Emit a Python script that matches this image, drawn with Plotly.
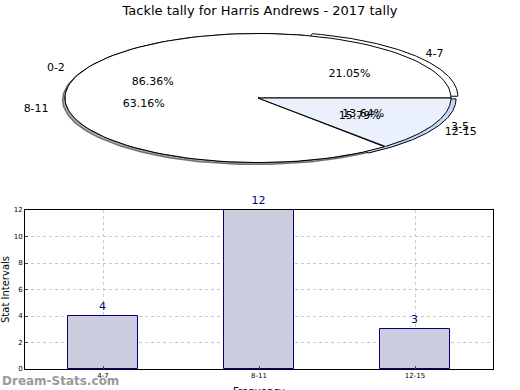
import numpy as np
import plotly.graph_objects as go

# ---- data ----
title = "Tackle tally for Harris Andrews - 2017 tally"
pie1_labels = ["0-2", "3-5"]
pie1_values = [19, 3]
pie2_labels = ["4-7", "8-11", "12-15"]
pie2_values = [4, 12, 3]
bar_categories = ["4-7", "8-11", "12-15"]
bar_values = [4, 12, 3]
x_title = "Frequency"
y_title = "Stat Intervals"

W, H = 520, 390
# pie geometry (pixels)
CXP, CYP, RXP, RYP = 258, 98, 193, 64.5
PIE_TOP_PX, PIE_BOT_PX = 12, 182

fig = go.Figure()


def wedge(a0, a1, off=(0.0, 0.0), n=120):
    t = np.linspace(np.radians(a0), np.radians(a1), n)
    xs = np.concatenate([[0], np.cos(t), [0]]) + off[0]
    ys = np.concatenate([[0], np.sin(t), [0]]) + off[1]
    return xs, ys


def pie_angles(values):
    tot = float(sum(values))
    fr = [v / tot for v in values]
    starts = np.concatenate([[0], np.cumsum(fr)[:-1]]) * 360
    ends = np.cumsum(fr) * 360
    return fr, starts, ends


# shadow
t = np.linspace(0, 2 * np.pi, 240)
fig.add_trace(go.Scatter(x=np.cos(t) - 0.012, y=np.sin(t) - 0.03, fill="toself",
                         fillcolor="rgba(120,120,120,0.6)", line=dict(color="rgba(90,90,90,0.8)", width=1.5),
                         mode="lines", hoverinfo="skip", showlegend=False, xaxis="x2", yaxis="y2"))

# pie 2 (drawn first)
fr2, s2, e2 = pie_angles(pie2_values)
colors2 = ["white", "white", "#c4d8f6"]
explode2 = [0.045, 0.0, 0.03]
for i in range(len(pie2_values)):
    mid = np.radians((s2[i] + e2[i]) / 2)
    off = (explode2[i] * np.cos(mid), explode2[i] * np.sin(mid))
    xs, ys = wedge(s2[i], e2[i], off)
    fig.add_trace(go.Scatter(x=xs, y=ys, fill="toself", fillcolor=colors2[i],
                             line=dict(color="black", width=1), mode="lines",
                             hoverinfo="skip", showlegend=False, xaxis="x2", yaxis="y2"))

# pie 1 (on top)
fr1, s1, e1 = pie_angles(pie1_values)
colors1 = ["white", "#eaf1fd"]
for i in range(len(pie1_values)):
    xs, ys = wedge(s1[i], e1[i])
    fig.add_trace(go.Scatter(x=xs, y=ys, fill="toself", fillcolor=colors1[i],
                             line=dict(color="black", width=1), mode="lines",
                             hoverinfo="skip", showlegend=False, xaxis="x2", yaxis="y2"))

# pie text
for labels, fr, s, e in [(pie1_labels, fr1, s1, e1), (pie2_labels, fr2, s2, e2)]:
    for i, lab in enumerate(labels):
        mid = np.radians((s[i] + e[i]) / 2)
        lx, ly = 1.1 * np.cos(mid), 1.1 * np.sin(mid)
        fig.add_trace(go.Scatter(x=[lx], y=[ly], mode="text", text=[lab],
                                 textposition="middle left" if lx < 0 else "middle right",
                                 textfont=dict(family="DejaVu Sans", size=11, color="black"),
                                 hoverinfo="skip", showlegend=False, xaxis="x2", yaxis="y2"))
        px, py = 0.6 * np.cos(mid), 0.6 * np.sin(mid)
        fig.add_trace(go.Scatter(x=[px], y=[py], mode="text", text=["%.2f%%" % (fr[i] * 100)],
                                 textposition="middle center",
                                 textfont=dict(family="DejaVu Sans", size=11, color="black"),
                                 hoverinfo="skip", showlegend=False, xaxis="x2", yaxis="y2"))

# bars
fig.add_trace(go.Bar(x=list(range(len(bar_categories))), y=bar_values, width=0.45,
                     marker=dict(color="#ccccdf", line=dict(color="#000080", width=1)),
                     text=[str(v) for v in bar_values], textposition="outside",
                     textfont=dict(family="DejaVu Sans", size=11, color="#000080"),
                     cliponaxis=False, hoverinfo="skip", showlegend=False,
                     xaxis="x", yaxis="y"))

xr = [-CXP / RXP, (W - CXP) / RXP]
yr = [-(PIE_BOT_PX - CYP) / RYP, (CYP - PIE_TOP_PX) / RYP]

fig.update_layout(
    width=W, height=H, margin=dict(l=0, r=0, t=0, b=0, autoexpand=False),
    paper_bgcolor="white", plot_bgcolor="white",
    font=dict(family="DejaVu Sans", color="black"),
    title=dict(text=title, x=0.5, xanchor="center", y=1 - 10 / H, yanchor="middle",
               font=dict(size=13, family="DejaVu Sans")),
    bargap=0,
    xaxis2=dict(domain=[0, 1], range=xr, visible=False, anchor="y2", automargin=False),
    yaxis2=dict(domain=[1 - PIE_BOT_PX / H, 1 - PIE_TOP_PX / H], range=yr, visible=False,
                anchor="x2", automargin=False),
    xaxis=dict(domain=[25 / W, 493 / W], range=[-0.5, len(bar_categories) - 0.5],
               tickmode="array", tickvals=list(range(len(bar_categories))), ticktext=bar_categories,
               tickfont=dict(size=7, family="DejaVu Sans"), ticks="inside", ticklen=3,
               showline=True, linecolor="black", linewidth=1, mirror=True,
               showgrid=True, gridcolor="#c8c8c8", griddash="dot", gridwidth=1,
               zeroline=False, anchor="y", automargin=False),
    yaxis=dict(domain=[(H - 369) / H, (H - 210) / H], range=[0, 12], dtick=2,
               tickfont=dict(size=7, family="DejaVu Sans"), ticks="inside", ticklen=3,
               showline=True, linecolor="black", linewidth=1, mirror=True,
               showgrid=True, gridcolor="#c8c8c8", griddash="dot", gridwidth=1,
               zeroline=False, anchor="x", automargin=False,
               title=dict(text=y_title, font=dict(size=10), standoff=4)),
    annotations=[
        dict(text="<b>Dream-Stats.com</b>", x=0, y=1 - 381 / H, xref="paper", yref="paper",
             xanchor="left", yanchor="middle", showarrow=False,
             font=dict(size=12, color="#9a9a9a", family="DejaVu Sans")),
        dict(text=x_title, x=259 / W, y=1 - 384 / H, xref="paper", yref="paper",
             xanchor="center", yanchor="top", showarrow=False,
             font=dict(size=10, color="black", family="DejaVu Sans")),
    ],
)

fig.write_html("out.html", config={"displayModeBar": False},
               post_script="document.body.style.margin='0';document.body.style.overflow='hidden';")
